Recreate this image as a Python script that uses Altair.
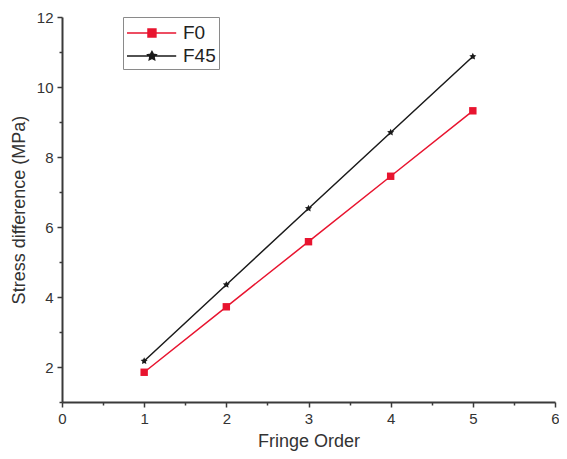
import altair as alt
import pandas as pd

orders = [1, 2, 3, 4, 5]
f0 = [1.85, 3.72, 5.58, 7.45, 9.32]
f45 = [2.17, 4.35, 6.53, 8.70, 10.87]
series_names = ["F0", "F45"]
colors = ["#e8142f", "#1a1a1a"]

df = pd.DataFrame({
    "order": orders + orders,
    "stress": f0 + f45,
    "series": ["F0"] * len(orders) + ["F45"] * len(orders),
})

STAR = "M0,-1L0.29,-0.4L0.95,-0.31L0.47,0.15L0.59,0.81L0,0.5L-0.59,0.81L-0.47,0.15L-0.95,-0.31L-0.29,-0.4Z"
# legend glyphs: line + marker (symbol unit = 12px, centred 12px from the entry's left)
LEG_SQ = "M-1,0L3.1,0M0.75,-0.33L1.41,-0.33L1.41,0.33L0.75,0.33Z"
LEG_STAR = ("M-1,0L3.1,0M1.08,-0.37L1.19,-0.15L1.43,-0.11L1.25,0.06L1.3,0.3L1.08,0.19"
            "L0.86,0.3L0.91,0.06L0.73,-0.11L0.97,-0.15Z")

font = "Liberation Sans"
axcol = "#3a3a3a"

x_vals = [i * 0.5 for i in range(13)]
y_vals = list(range(1, 13))

base = alt.Chart(df).encode(
    x=alt.X("order:Q", title="Fringe Order",
            scale=alt.Scale(domain=[0, 6], nice=False),
            axis=alt.Axis(values=x_vals, grid=False, labelFlush=False,
                          labelExpr="datum.value % 1 == 0 ? format(datum.value, 'd') : ''",
                          tickSize={"condition": {"test": "datum.value % 1 != 0", "value": 3}, "value": 5},
                          labelPadding=4, titlePadding=6)),
    y=alt.Y("stress:Q", title="Stress difference (MPa)",
            scale=alt.Scale(domain=[1, 12], nice=False, zero=False),
            axis=alt.Axis(values=y_vals, grid=False, labelFlush=False,
                          labelExpr="datum.value % 2 == 0 ? format(datum.value, 'd') : ''",
                          tickSize={"condition": {"test": "datum.value % 2 != 0", "value": 3}, "value": 5},
                          labelPadding=4, titlePadding=8)),
    color=alt.Color("series:N",
                    scale=alt.Scale(domain=series_names, range=colors),
                    legend=alt.Legend(
                        title=None, orient="none", legendX=61, legendY=0,
                        strokeColor="#8a8a8a", fillColor="white", padding=3,
                        labelFont=font, labelFontSize=19, labelColor="#222",
                        symbolSize=576, rowPadding=0, labelOffset=31,
                        symbolStrokeWidth=1.5,
                        symbolType={"expr": "datum.value === 'F0' ? '" + LEG_SQ + "' : '" + LEG_STAR + "'"},
                        symbolStrokeColor={"expr": "datum.value === 'F0' ? '#e8142f' : '#1a1a1a'"},
                        symbolFillColor={"expr": "datum.value === 'F0' ? '#e8142f' : '#1a1a1a'"},
                        symbolOpacity=1,
                    )),
)

line = base.mark_line(strokeWidth=1.5)
pts_f0 = base.transform_filter(alt.datum.series == "F0").mark_point(
    filled=True, opacity=1, shape="square", size=55)
pts_f45 = base.transform_filter(alt.datum.series == "F45").mark_point(
    filled=True, opacity=1, shape=STAR, size=55)

chart = (line + pts_f0 + pts_f45).properties(
    width=493, height=385,
    autosize=alt.AutoSizeParams(type="none"),
    padding={"left": 54, "top": 9, "right": 4, "bottom": 49},
).configure_axis(
    domainColor=axcol, domainWidth=2, tickColor=axcol, tickWidth=1.5,
    labelFont=font, labelFontSize=15, labelColor="#333",
    titleFont=font, titleFontSize=18, titleColor="#333", titleFontWeight="normal",
).configure_view(stroke=None)

chart.save("out.html", embed_options={"renderer": "svg", "actions": False})
